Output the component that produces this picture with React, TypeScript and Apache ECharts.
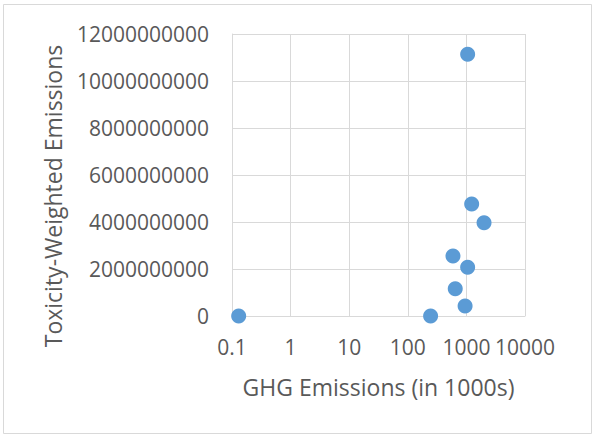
import React, { useEffect, useRef } from "react";
import * as echarts from "echarts";

const ghgEmissions = [0.13, 245, 1050, 1230, 2000, 590, 1050, 645, 950];
const toxicityWeighted = [0, 0, 11140000000, 4770000000, 3970000000, 2550000000, 2070000000, 1160000000, 430000000];
const xTickLabels = ["0.1", "1", "10", "100", "1000", "10000"];
const yTicks = [0, 2000000000, 4000000000, 6000000000, 8000000000, 10000000000, 12000000000];
const xTitle = "GHG Emissions (in 1000s)";
const yTitle = "Toxicity-Weighted Emissions";

const FONT = "'Open Sans', sans-serif";
const TEXT = "#595959";
const GRID = "#D9D9D9";

export default function App() {
  const ref = useRef<HTMLDivElement>(null);
  useEffect(() => {
    if (!ref.current) return;
    const chart = echarts.init(ref.current, undefined, { renderer: "svg" });
    const points = ghgEmissions.map((x, i) => [x, toxicityWeighted[i]]);
    chart.setOption({
      animation: false,
      backgroundColor: "#ffffff",
      textStyle: { fontFamily: FONT },
      graphic: [
        {
          type: "rect",
          shape: { x: 3.5, y: 4.5, width: 588, height: 429 },
          style: { fill: "none", stroke: GRID, lineWidth: 1 },
          silent: true,
        },
        {
          type: "text",
          x: 53,
          y: 196,
          rotation: Math.PI / 2,
          style: {
            text: yTitle,
            fill: TEXT,
            font: `23px ${FONT}`,
            textAlign: "center",
            textVerticalAlign: "middle",
          },
        },
      ],
      grid: { left: 232, right: 70, top: 34, bottom: 119, containLabel: false },
      xAxis: {
        type: "log",
        logBase: 10,
        min: 0.1,
        max: 10000,
        name: xTitle,
        nameLocation: "middle",
        nameGap: 71,
        nameTextStyle: { color: TEXT, fontSize: 23, fontFamily: FONT, verticalAlign: "middle" },
        axisLine: { show: true, lineStyle: { color: GRID, width: 1 } },
        axisTick: { show: false },
        splitLine: { show: true, lineStyle: { color: GRID, width: 1 } },
        minorSplitLine: { show: false },
        axisLabel: {
          color: TEXT,
          fontSize: 21,
          fontFamily: FONT,
          margin: 31,
          verticalAlign: "middle",
          formatter: (v: number) => {
            const idx = Math.round(Math.log10(v)) + 1;
            return xTickLabels[idx] ?? String(v);
          },
        },
      },
      yAxis: {
        type: "value",
        min: yTicks[0],
        max: yTicks[yTicks.length - 1],
        interval: yTicks[1] - yTicks[0],
        axisLine: { show: true, lineStyle: { color: GRID, width: 1 } },
        axisTick: { show: false },
        splitLine: { show: true, lineStyle: { color: GRID, width: 1 } },
        axisLabel: {
          color: TEXT,
          fontSize: 21,
          fontFamily: FONT,
          margin: 23,
          formatter: (v: number) => v.toFixed(0),
        },
      },
      series: [
        {
          type: "scatter",
          data: points,
          symbol: "circle",
          symbolSize: 15,
          itemStyle: { color: "#5B9BD5", opacity: 1 },
        },
      ],
    });
    return () => chart.dispose();
  }, []);
  return (
    <div
      ref={ref}
      style={{ position: "fixed", left: 0, top: 0, width: 595, height: 435 }}
    />
  );
}
